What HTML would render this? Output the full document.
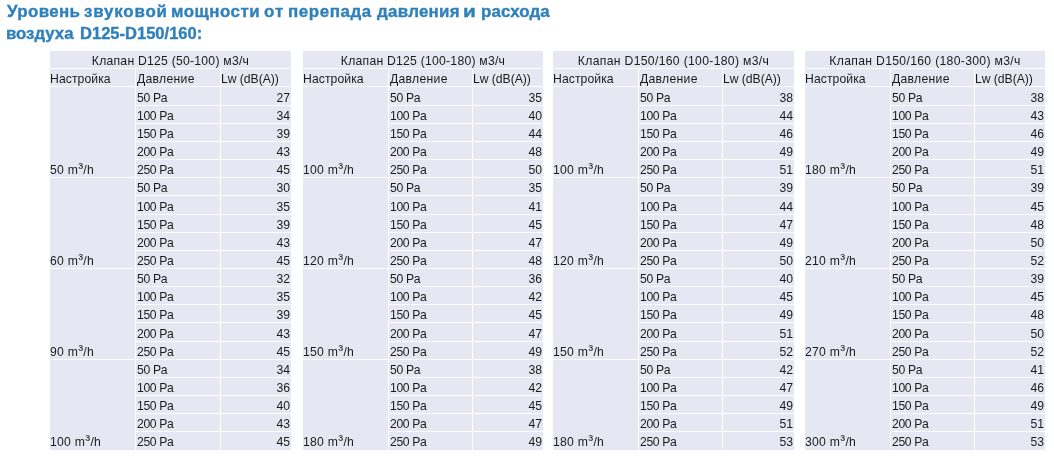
<!DOCTYPE html>
<html lang="ru"><head><meta charset="utf-8"><title>Уровень звуковой мощности</title>
<style>
html,body{margin:0;padding:0;background:#fff;}
body{width:1054px;height:459px;position:relative;overflow:hidden;font-family:"Liberation Sans",sans-serif;}
h1{position:absolute;left:0;top:0;margin:0;width:1054px;height:48px;font-size:15.8px;line-height:20px;font-weight:bold;color:#2f80bb;white-space:nowrap;-webkit-text-stroke:0.35px #2f80bb;}
h1 span{position:absolute;display:block;transform-origin:0 0;}
table{position:absolute;top:51px;border-collapse:separate;border-spacing:0;table-layout:fixed;font-size:12.2px;color:#1c1c1c;}
td,th{padding:0;background:#e5e8f2;border-bottom:1px solid #fff;border-right:1px solid #fff;font-weight:normal;text-align:left;vertical-align:bottom;line-height:14px;white-space:nowrap;overflow:hidden;}
tr>:last-child{border-right:0;}
tr:last-child>td,td.last{border-bottom-color:#e5e8f2;}
th.cap{text-align:center;letter-spacing:0.24px;}
th.cap.w{letter-spacing:0.32px;}
th.ha{letter-spacing:0.08px;}
th.hb{letter-spacing:0.29px;padding-left:1px;}
th.hc{letter-spacing:-0.04px;}
td.f{letter-spacing:0.27px;}
td.f .s{font-size:1.2em;line-height:0;position:relative;top:-1px;}
td.p{padding-left:1px;letter-spacing:-0.35px;}
td.n{text-align:right;padding-right:1px;}
</style></head><body>
<h1>
<span style="left:7.10px;top:2px;transform:scaleX(1.0700);letter-spacing:0.35px;">Уровень</span> 
<span style="left:84.35px;top:2px;transform:scaleX(1.0700);letter-spacing:0.77px;">звуковой</span> 
<span style="left:171.03px;top:2px;transform:scaleX(1.0700);letter-spacing:0.45px;">мощности</span> 
<span style="left:263.76px;top:2px;transform:scaleX(1.0700);letter-spacing:1.01px;">от</span> 
<span style="left:287.73px;top:2px;transform:scaleX(1.0700);letter-spacing:0.56px;">перепада</span> 
<span style="left:377.00px;top:2px;transform:scaleX(1.0700);letter-spacing:0.26px;">давления</span> 
<span style="left:463.38px;top:2px;transform:scaleX(1.3161);">и</span> 
<span style="left:480.63px;top:2px;transform:scaleX(1.0700);letter-spacing:0.10px;">расхода</span> 
<span style="left:6.44px;top:24px;transform:scaleX(1.0614);">воздуха</span> 
<span style="left:79.95px;top:24px;transform:scaleX(1.0468);">D125-D150/160:</span> 
</h1>
<table style="left:50px;width:241px"><colgroup><col style="width:86px"><col style="width:85px"><col style="width:70px"></colgroup>
<tr style="height:18px"><th class="cap" colspan="3">Клапан D125 (50-100) м3/ч</th></tr>
<tr style="height:18px"><th class="ha">Настройка</th><th class="hb">Давление</th><th class="hc">Lw (dB(A))</th></tr>
<tr style="height:19px"><td class="f" rowspan="5">50 m<span class="s">³</span>/h</td><td class="p">50 Pa</td><td class="n">27</td></tr>
<tr style="height:18px"><td class="p">100 Pa</td><td class="n">34</td></tr>
<tr style="height:18px"><td class="p">150 Pa</td><td class="n">39</td></tr>
<tr style="height:18px"><td class="p">200 Pa</td><td class="n">43</td></tr>
<tr style="height:18px"><td class="p">250 Pa</td><td class="n">45</td></tr>
<tr style="height:18px"><td class="f" rowspan="5">60 m<span class="s">³</span>/h</td><td class="p">50 Pa</td><td class="n">30</td></tr>
<tr style="height:19px"><td class="p">100 Pa</td><td class="n">35</td></tr>
<tr style="height:18px"><td class="p">150 Pa</td><td class="n">39</td></tr>
<tr style="height:18px"><td class="p">200 Pa</td><td class="n">43</td></tr>
<tr style="height:18px"><td class="p">250 Pa</td><td class="n">45</td></tr>
<tr style="height:18px"><td class="f" rowspan="5">90 m<span class="s">³</span>/h</td><td class="p">50 Pa</td><td class="n">32</td></tr>
<tr style="height:18px"><td class="p">100 Pa</td><td class="n">35</td></tr>
<tr style="height:18px"><td class="p">150 Pa</td><td class="n">39</td></tr>
<tr style="height:19px"><td class="p">200 Pa</td><td class="n">43</td></tr>
<tr style="height:18px"><td class="p">250 Pa</td><td class="n">45</td></tr>
<tr style="height:18px"><td class="f last" rowspan="5">100 m<span class="s">³</span>/h</td><td class="p">50 Pa</td><td class="n">34</td></tr>
<tr style="height:18px"><td class="p">100 Pa</td><td class="n">36</td></tr>
<tr style="height:18px"><td class="p">150 Pa</td><td class="n">40</td></tr>
<tr style="height:18px"><td class="p">200 Pa</td><td class="n">43</td></tr>
<tr style="height:18px"><td class="p">250 Pa</td><td class="n">45</td></tr>
</table>
<table style="left:303px;width:240px"><colgroup><col style="width:86px"><col style="width:84px"><col style="width:70px"></colgroup>
<tr style="height:18px"><th class="cap" colspan="3">Клапан D125 (100-180) м3/ч</th></tr>
<tr style="height:18px"><th class="ha">Настройка</th><th class="hb">Давление</th><th class="hc">Lw (dB(A))</th></tr>
<tr style="height:19px"><td class="f" rowspan="5">100 m<span class="s">³</span>/h</td><td class="p">50 Pa</td><td class="n">35</td></tr>
<tr style="height:18px"><td class="p">100 Pa</td><td class="n">40</td></tr>
<tr style="height:18px"><td class="p">150 Pa</td><td class="n">44</td></tr>
<tr style="height:18px"><td class="p">200 Pa</td><td class="n">48</td></tr>
<tr style="height:18px"><td class="p">250 Pa</td><td class="n">50</td></tr>
<tr style="height:18px"><td class="f" rowspan="5">120 m<span class="s">³</span>/h</td><td class="p">50 Pa</td><td class="n">35</td></tr>
<tr style="height:19px"><td class="p">100 Pa</td><td class="n">41</td></tr>
<tr style="height:18px"><td class="p">150 Pa</td><td class="n">45</td></tr>
<tr style="height:18px"><td class="p">200 Pa</td><td class="n">47</td></tr>
<tr style="height:18px"><td class="p">250 Pa</td><td class="n">48</td></tr>
<tr style="height:18px"><td class="f" rowspan="5">150 m<span class="s">³</span>/h</td><td class="p">50 Pa</td><td class="n">36</td></tr>
<tr style="height:18px"><td class="p">100 Pa</td><td class="n">42</td></tr>
<tr style="height:18px"><td class="p">150 Pa</td><td class="n">45</td></tr>
<tr style="height:19px"><td class="p">200 Pa</td><td class="n">47</td></tr>
<tr style="height:18px"><td class="p">250 Pa</td><td class="n">49</td></tr>
<tr style="height:18px"><td class="f last" rowspan="5">180 m<span class="s">³</span>/h</td><td class="p">50 Pa</td><td class="n">38</td></tr>
<tr style="height:18px"><td class="p">100 Pa</td><td class="n">42</td></tr>
<tr style="height:18px"><td class="p">150 Pa</td><td class="n">45</td></tr>
<tr style="height:18px"><td class="p">200 Pa</td><td class="n">47</td></tr>
<tr style="height:18px"><td class="p">250 Pa</td><td class="n">49</td></tr>
</table>
<table style="left:553px;width:241px"><colgroup><col style="width:86px"><col style="width:84px"><col style="width:71px"></colgroup>
<tr style="height:18px"><th class="cap w" colspan="3">Клапан D150/160 (100-180) м3/ч</th></tr>
<tr style="height:18px"><th class="ha">Настройка</th><th class="hb">Давление</th><th class="hc">Lw (dB(A))</th></tr>
<tr style="height:19px"><td class="f" rowspan="5">100 m<span class="s">³</span>/h</td><td class="p">50 Pa</td><td class="n">38</td></tr>
<tr style="height:18px"><td class="p">100 Pa</td><td class="n">44</td></tr>
<tr style="height:18px"><td class="p">150 Pa</td><td class="n">46</td></tr>
<tr style="height:18px"><td class="p">200 Pa</td><td class="n">49</td></tr>
<tr style="height:18px"><td class="p">250 Pa</td><td class="n">51</td></tr>
<tr style="height:18px"><td class="f" rowspan="5">120 m<span class="s">³</span>/h</td><td class="p">50 Pa</td><td class="n">39</td></tr>
<tr style="height:19px"><td class="p">100 Pa</td><td class="n">44</td></tr>
<tr style="height:18px"><td class="p">150 Pa</td><td class="n">47</td></tr>
<tr style="height:18px"><td class="p">200 Pa</td><td class="n">49</td></tr>
<tr style="height:18px"><td class="p">250 Pa</td><td class="n">50</td></tr>
<tr style="height:18px"><td class="f" rowspan="5">150 m<span class="s">³</span>/h</td><td class="p">50 Pa</td><td class="n">40</td></tr>
<tr style="height:18px"><td class="p">100 Pa</td><td class="n">45</td></tr>
<tr style="height:18px"><td class="p">150 Pa</td><td class="n">49</td></tr>
<tr style="height:19px"><td class="p">200 Pa</td><td class="n">51</td></tr>
<tr style="height:18px"><td class="p">250 Pa</td><td class="n">52</td></tr>
<tr style="height:18px"><td class="f last" rowspan="5">180 m<span class="s">³</span>/h</td><td class="p">50 Pa</td><td class="n">42</td></tr>
<tr style="height:18px"><td class="p">100 Pa</td><td class="n">47</td></tr>
<tr style="height:18px"><td class="p">150 Pa</td><td class="n">49</td></tr>
<tr style="height:18px"><td class="p">200 Pa</td><td class="n">51</td></tr>
<tr style="height:18px"><td class="p">250 Pa</td><td class="n">53</td></tr>
</table>
<table style="left:805px;width:240px"><colgroup><col style="width:86px"><col style="width:84px"><col style="width:70px"></colgroup>
<tr style="height:18px"><th class="cap w" colspan="3">Клапан D150/160 (180-300) м3/ч</th></tr>
<tr style="height:18px"><th class="ha">Настройка</th><th class="hb">Давление</th><th class="hc">Lw (dB(A))</th></tr>
<tr style="height:19px"><td class="f" rowspan="5">180 m<span class="s">³</span>/h</td><td class="p">50 Pa</td><td class="n">38</td></tr>
<tr style="height:18px"><td class="p">100 Pa</td><td class="n">43</td></tr>
<tr style="height:18px"><td class="p">150 Pa</td><td class="n">46</td></tr>
<tr style="height:18px"><td class="p">200 Pa</td><td class="n">49</td></tr>
<tr style="height:18px"><td class="p">250 Pa</td><td class="n">51</td></tr>
<tr style="height:18px"><td class="f" rowspan="5">210 m<span class="s">³</span>/h</td><td class="p">50 Pa</td><td class="n">39</td></tr>
<tr style="height:19px"><td class="p">100 Pa</td><td class="n">45</td></tr>
<tr style="height:18px"><td class="p">150 Pa</td><td class="n">48</td></tr>
<tr style="height:18px"><td class="p">200 Pa</td><td class="n">50</td></tr>
<tr style="height:18px"><td class="p">250 Pa</td><td class="n">52</td></tr>
<tr style="height:18px"><td class="f" rowspan="5">270 m<span class="s">³</span>/h</td><td class="p">50 Pa</td><td class="n">39</td></tr>
<tr style="height:18px"><td class="p">100 Pa</td><td class="n">45</td></tr>
<tr style="height:18px"><td class="p">150 Pa</td><td class="n">48</td></tr>
<tr style="height:19px"><td class="p">200 Pa</td><td class="n">50</td></tr>
<tr style="height:18px"><td class="p">250 Pa</td><td class="n">52</td></tr>
<tr style="height:18px"><td class="f last" rowspan="5">300 m<span class="s">³</span>/h</td><td class="p">50 Pa</td><td class="n">41</td></tr>
<tr style="height:18px"><td class="p">100 Pa</td><td class="n">46</td></tr>
<tr style="height:18px"><td class="p">150 Pa</td><td class="n">49</td></tr>
<tr style="height:18px"><td class="p">200 Pa</td><td class="n">51</td></tr>
<tr style="height:18px"><td class="p">250 Pa</td><td class="n">53</td></tr>
</table>
</body></html>
